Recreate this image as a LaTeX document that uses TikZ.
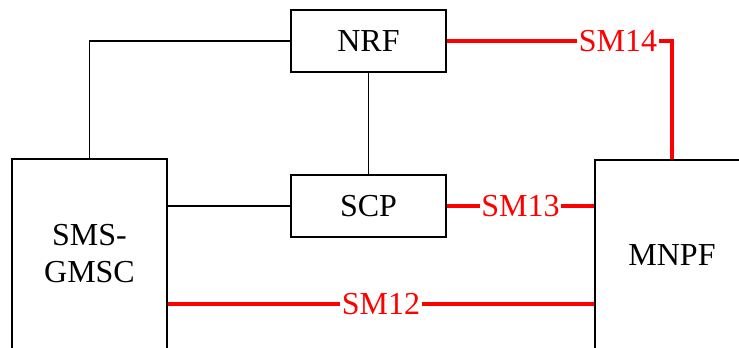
\documentclass[tikz,border=0pt]{standalone}
\usepackage{fontspec}
\setmainfont{Liberation Serif}
\usetikzlibrary{calc}

\tikzset{
    nf/.style={draw, line width=1.4bp, minimum width=155bp, minimum height=62bp,
        inner sep=0pt, font=\fontsize{32bp}{37bp}\selectfont},
    bigbox/.style={nf, align=center, minimum height=190bp},
    smlink/.style={draw=red, line width=3.3bp},
    smlabel/.style={fill=white, text=red, inner sep=1.5bp, font=\fontsize{32bp}{37bp}\selectfont}
}

\begin{document}
\begin{tikzpicture}[x=1bp, y=1bp]

\useasboundingbox (0,0) rectangle (739,347);
\clip (0,0) rectangle (739,347);

% Boxes
\node[nf] (nrf) at (368.5,306) {NRF};
\node[nf] (scp) at (368.5,141) {SCP};
\node[bigbox] (gmsc) at (89.5,93) {SMS-\\GMSC};
\node[bigbox, minimum width=154bp] (mnpf) at (672,92) {MNPF};

% Plain links
\draw[line width=1.4bp] (nrf.west) -| (gmsc.north);
\draw[line width=1.4bp] (nrf.south) -- (scp.north);
\draw[line width=1.4bp] (scp.west) -- (scp.west -| gmsc.east);

% SM links
\draw[smlink] (nrf.east) -| node[smlabel, pos=0.38] {SM14} (mnpf.north);
\draw[smlink] (scp.east) -- node[smlabel] {SM13} (scp.east -| mnpf.west);
\draw[smlink] ([yshift=-50bp]gmsc.east) -- node[smlabel] {SM12} ([yshift=-50bp]gmsc.east -| mnpf.west);

\end{tikzpicture}
\end{document}
